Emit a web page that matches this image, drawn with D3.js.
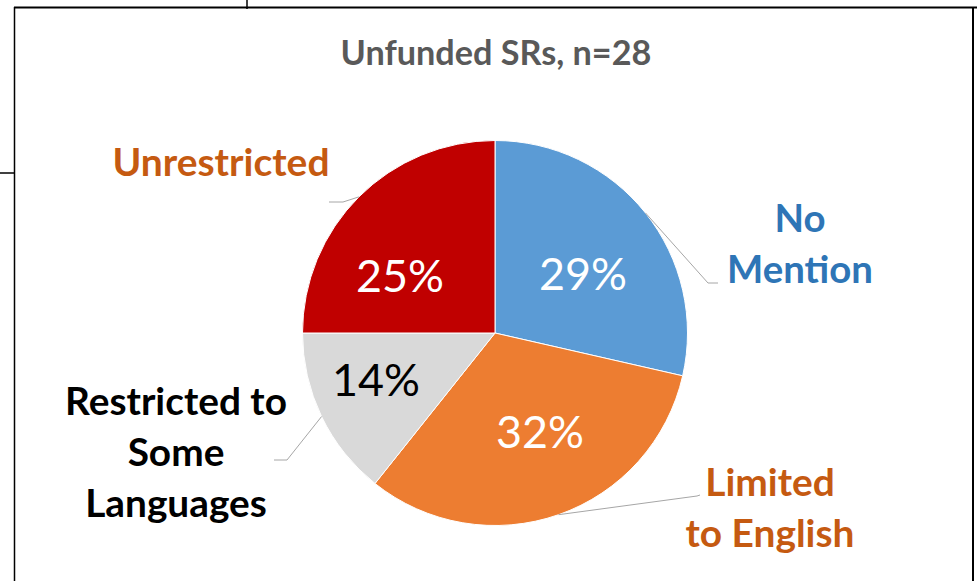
<!DOCTYPE html>
<html>
<head>
<meta charset="utf-8">
<script src="https://cdn.jsdelivr.net/npm/d3@7"></script>
<style>
html,body{margin:0;padding:0;background:#fff;}
svg{display:block;}
</style>
</head>
<body>
<svg id="chart" width="978" height="581"></svg>
<script>
// ---- data ----
const title = "Unfunded SRs, n=28";
const categories = ["No Mention", "Limited to English", "Restricted to Some Languages", "Unrestricted"];
const counts = [8, 9, 4, 7];
const pctLabels = ["29%", "32%", "14%", "25%"];
const labelLines = [["No", "Mention"], ["Limited", "to English"], ["Restricted to", "Some", "Languages"], ["Unrestricted"]];

// ---- styles / layout ----
const sliceColors = ["#5B9BD5", "#ED7D31", "#D9D9D9", "#C00000"];
const labelColors = ["#2E75B6", "#C55A11", "#000000", "#C55A11"];
const pctColors = ["#FFFFFF", "#FFFFFF", "#000000", "#FFFFFF"];
const FONT = "Lato, 'Open Sans', 'Liberation Sans', sans-serif";

const W = 978, H = 581;
const cx = 495, cy = 333, R = 192.5;

const svg = d3.select("#chart");

// frame lines (from the surrounding document)
const frame = svg.append("g").attr("stroke", "#000").attr("fill", "none");
frame.append("line").attr("x1", 14).attr("x2", 977).attr("y1", 7.5).attr("y2", 7.5).attr("stroke-width", 2);
frame.append("line").attr("x1", 14.5).attr("x2", 14.5).attr("y1", 7).attr("y2", H).attr("stroke-width", 1.5);
frame.append("line").attr("x1", 973).attr("x2", 973).attr("y1", 7).attr("y2", H).attr("stroke-width", 2);
frame.append("line").attr("x1", 247).attr("x2", 247).attr("y1", 0).attr("y2", 9).attr("stroke-width", 1.5);
frame.append("line").attr("x1", 0).attr("x2", 14).attr("y1", 173).attr("y2", 173).attr("stroke-width", 1.5);

function fit(sel, target) {
  // scale font so the widest line hits target width
  let maxW = 0;
  sel.each(function () { maxW = Math.max(maxW, this.getComputedTextLength()); });
  const fs = parseFloat(sel.attr("font-size"));
  sel.attr("font-size", fs * target / maxW);
}

// title
const t = svg.append("text")
  .attr("x", 496).attr("y", 65)
  .attr("text-anchor", "middle")
  .attr("font-family", FONT).attr("font-weight", "bold")
  .attr("font-size", 30).attr("fill", "#595959")
  .text(title);
fit(t, 311);

// pie
const pie = d3.pie().sort(null).value(d => d).startAngle(0).endAngle(2 * Math.PI);
const arcs = pie(counts);
const arc = d3.arc().innerRadius(0).outerRadius(R);

const g = svg.append("g").attr("transform", `translate(${cx},${cy})`);
g.selectAll("path.slice").data(arcs).join("path")
  .attr("class", "slice")
  .attr("d", arc)
  .attr("fill", (d, i) => sliceColors[i])
  .attr("stroke", "#fff").attr("stroke-width", 1);

// leader lines: from slice mid-angle on the rim to an elbow, then short horizontal
const leaderLayout = [
  {elbow: [213, -50], end: [223, -50]},
  {elbow: [202, 163], end: [205, 162]},
  {elbow: [-208, 127], end: [-221, 127]},
  {elbow: [-152, -131], end: [-166, -131]}
];
g.selectAll("polyline.leader").data(arcs).join("polyline")
  .attr("class", "leader")
  .attr("fill", "none").attr("stroke", "#A6A6A6").attr("stroke-width", 1)
  .attr("points", (d, i) => {
    const a = (d.startAngle + d.endAngle) / 2;
    const p0 = [R * Math.sin(a), -R * Math.cos(a)];
    const L = leaderLayout[i];
    return [p0, L.elbow, L.end].map(p => p.join(",")).join(" ");
  });

// percentage labels
const pctLayout = [
  {x: 88, y: -43},
  {x: 45, y: 115},
  {x: -119, y: 63},
  {x: -95, y: -41.5}
];
const pcts = g.selectAll("text.pct").data(arcs).join("text")
  .attr("class", "pct")
  .attr("x", (d, i) => pctLayout[i].x)
  .attr("y", (d, i) => pctLayout[i].y)
  .attr("text-anchor", "middle")
  .attr("font-family", FONT).attr("font-size", 44)
  .attr("fill", (d, i) => pctColors[i])
  .text((d, i) => pctLabels[i]);
pcts.each(function () { fit(d3.select(this), 88); });

// category labels
const catLayout = [
  {x: 800, y: 232, w: 146},
  {x: 770, y: 495.5, w: 169},
  {x: 176, y: 415, w: 222},
  {x: 221, y: 176, w: 217}
];
const lineGap = 51;
categories.forEach((c, i) => {
  const L = catLayout[i];
  const tg = svg.append("text")
    .attr("text-anchor", "middle")
    .attr("font-family", FONT).attr("font-weight", "bold")
    .attr("font-size", 36).attr("fill", labelColors[i]);
  const ts = tg.selectAll("tspan").data(labelLines[i]).join("tspan")
    .attr("x", L.x)
    .attr("y", (d, j) => L.y + j * lineGap)
    .text(d => d);
  let maxW = 0;
  ts.each(function () { maxW = Math.max(maxW, this.getComputedTextLength()); });
  tg.attr("font-size", 36 * L.w / maxW);
});
</script>
</body>
</html>
